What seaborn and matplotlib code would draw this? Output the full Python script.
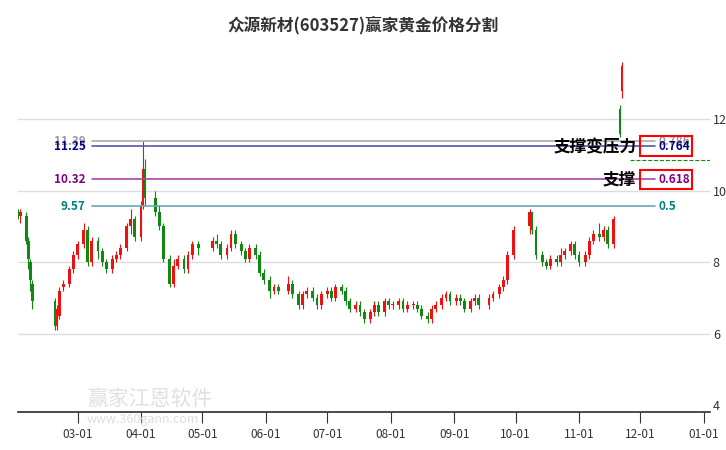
import pandas as pd
import numpy as np
import matplotlib.pyplot as plt
import matplotlib.dates as mdates
from matplotlib.patches import Rectangle
import seaborn as sns

sns.set_theme(style='white')
plt.rcParams['font.family'] = ['Noto Sans CJK SC', 'DejaVu Sans']

# Daily candles (date, open, close, high, low)
dates = ['02-01','02-02','02-05','02-06','02-07','02-08','02-19','02-20','02-21','02-23','02-26','02-28',
         '03-01','03-04','03-06','03-08','03-11','03-13','03-15','03-18','03-20','03-22','03-25','03-27','03-29',
         '04-01','04-02','04-03','04-08','04-10','04-12','04-15','04-17','04-19','04-22','04-24','04-26','04-29',
         '05-06','05-08','05-10','05-13','05-15','05-17','05-20','05-22','05-24','05-27','05-29','05-31',
         '06-03','06-05','06-07','06-12','06-14','06-17','06-19','06-21','06-24','06-26','06-28',
         '07-01','07-03','07-05','07-08','07-10','07-12','07-15','07-17','07-19','07-22','07-24','07-26','07-29','07-31',
         '08-02','08-05','08-07','08-09','08-12','08-14','08-16','08-19','08-21','08-23','08-26','08-28','08-30',
         '09-02','09-04','09-06','09-09','09-11','09-13','09-18','09-20','09-23','09-25','09-27','09-30',
         '10-08','10-09','10-11','10-14','10-16','10-18','10-21','10-23','10-25','10-28','10-30',
         '11-01','11-04','11-06','11-08','11-11','11-13','11-15','11-18','11-21','11-22']
opens = [9.4,9.3,9.3,8.6,8.0,7.4,6.9,6.2,6.5,7.3,7.4,7.8,
         8.2,8.5,8.9,8.0,8.6,8.3,8.0,7.8,8.1,8.2,8.4,9.0,9.2,
         8.7,9.6,10.6,9.8,9.4,9.0,8.1,7.4,7.9,8.1,7.8,8.2,8.5,
         8.4,8.6,8.5,8.2,8.4,8.8,8.5,8.3,8.1,8.4,8.2,7.7,
         7.5,7.2,7.3,7.2,7.4,7.1,6.8,7.1,7.2,7.0,6.8,
         7.1,7.2,7.0,7.3,7.2,6.9,6.7,6.8,6.6,6.4,6.6,6.8,6.6,6.9,
         6.8,6.8,6.9,6.7,6.8,6.8,6.7,6.5,6.4,6.7,6.8,7.0,7.1,
         6.9,7.0,6.9,6.7,6.9,7.0,6.8,7.0,7.1,7.3,7.5,8.2,
         9.0,9.4,8.9,8.2,8.0,7.9,8.1,8.0,8.2,8.3,8.5,
         8.2,8.0,8.2,8.6,8.8,8.7,8.9,8.5,12.3,12.8]
closes = [9.3,9.4,8.6,8.1,7.5,6.9,6.2,6.7,7.2,7.4,7.8,8.2,
          8.5,8.9,8.0,8.6,8.3,8.0,7.8,8.1,8.2,8.4,9.0,9.2,8.7,
          9.6,10.6,9.8,9.4,9.0,8.1,7.4,7.9,8.1,7.8,8.2,8.5,8.4,
          8.6,8.5,8.2,8.4,8.8,8.5,8.3,8.1,8.4,8.2,7.7,7.5,
          7.2,7.3,7.2,7.4,7.1,6.8,7.1,7.2,7.0,6.8,7.1,
          7.2,7.0,7.3,7.2,6.9,6.7,6.8,6.6,6.4,6.6,6.8,6.6,6.9,6.8,
          6.8,6.9,6.7,6.8,6.8,6.7,6.5,6.4,6.7,6.8,7.0,7.1,6.9,
          7.0,6.9,6.7,6.9,7.0,6.8,7.0,7.1,7.3,7.5,8.2,8.9,
          9.4,8.9,8.2,8.0,7.9,8.1,8.0,8.2,8.3,8.5,8.2,
          8.0,8.2,8.6,8.8,8.7,8.9,8.5,9.2,11.6,13.5]
highs = [9.5,9.5,9.4,8.7,8.1,7.5,7.0,6.8,7.3,7.5,7.9,8.3,
         8.6,9.1,9.0,8.7,8.7,8.4,8.1,8.2,8.3,8.5,9.1,9.5,9.3,
         9.7,11.4,10.9,10.0,9.6,9.1,8.2,8.1,8.2,8.2,8.3,8.6,8.6,
         8.7,8.8,8.6,8.5,8.9,8.9,8.6,8.4,8.5,8.5,8.3,7.8,
         7.6,7.4,7.4,7.6,7.5,7.2,7.2,7.3,7.3,7.1,7.2,
         7.3,7.3,7.4,7.4,7.3,7.0,6.9,6.9,6.7,6.7,6.9,6.9,7.0,7.0,
         6.9,7.0,7.0,6.9,6.9,6.9,6.8,6.6,6.8,6.9,7.1,7.2,7.2,
         7.1,7.1,7.0,7.0,7.1,7.1,7.1,7.2,7.4,7.6,8.3,9.0,
         9.5,9.4,9.0,8.3,8.1,8.2,8.2,8.4,8.4,8.6,8.6,
         8.3,8.3,8.7,8.9,9.1,9.0,9.0,9.3,12.4,13.6]
lows = [9.2,9.1,8.5,7.8,7.2,6.7,6.1,6.1,6.4,7.2,7.3,7.7,
        8.1,8.4,7.9,7.9,8.1,7.9,7.7,7.7,8.0,8.1,8.3,8.8,8.6,
        8.6,9.5,9.6,9.3,8.9,8.0,7.3,7.3,7.8,7.7,7.7,8.1,8.2,
        8.3,8.4,8.1,8.1,8.3,8.4,8.2,8.0,8.0,8.1,7.6,7.4,
        7.0,7.1,7.1,7.1,7.0,6.7,6.7,7.0,6.9,6.7,6.7,
        7.0,6.9,6.9,7.1,6.8,6.6,6.6,6.5,6.3,6.3,6.5,6.5,6.5,6.7,
        6.7,6.7,6.6,6.6,6.7,6.6,6.4,6.3,6.3,6.6,6.7,6.9,6.8,
        6.8,6.8,6.6,6.6,6.8,6.7,6.7,6.9,7.0,7.2,7.4,8.1,
        8.8,8.8,8.1,7.9,7.8,7.8,7.9,7.9,8.1,8.2,8.1,
        7.9,7.9,8.1,8.5,8.6,8.6,8.4,8.4,11.5,12.6]

levels = [11.39, 11.25, 10.32, 9.57]
level_ratios = ['0.786', '0.764', '0.618', '0.5']
level_colors = ['#999999', '#000080', '#800080', '#008080']
line_colors = ['#aaaaaa', '#5555aa', '#aa44aa', '#66aaaa']
yticks = [4, 6, 8, 10, 12]
xtick_labels = ['03-01', '04-01', '05-01', '06-01', '07-01', '08-01', '09-01', '10-01', '11-01', '12-01', '01-01']

df = pd.DataFrame({'date': pd.to_datetime(['2024-' + d for d in dates]),
                   'open': opens, 'close': closes, 'high': highs, 'low': lows})
df['x'] = mdates.date2num(df['date'])

fig = plt.figure(figsize=(7.26, 4.5), dpi=100)
ax = fig.add_axes([0.025, 0.084, 0.953, 0.816])

for _, r in df.iterrows():
    col = '#ee1111' if r['close'] >= r['open'] else '#118811'
    ax.vlines(r['x'], r['low'], r['high'], color=col, lw=0.8)
    ax.add_patch(Rectangle((r['x'] - 0.7, min(r['open'], r['close'])), 1.4,
                           max(abs(r['close'] - r['open']), 0.03), color=col, lw=0))

x0 = mdates.date2num(pd.Timestamp('2024-03-08'))
x1 = mdates.date2num(pd.Timestamp('2024-12-08'))
for lv, rt, tc, lc in zip(levels, level_ratios, level_colors, line_colors):
    ax.plot([x0, x1], [lv, lv], color=lc, lw=1.2)
    ax.text(x0 - 3, lv, f'{lv:.2f}', color=tc, fontsize=8.5, ha='right', va='center', fontweight='bold')
    ax.text(x1 + 2, lv, rt, color=tc, fontsize=8.5, ha='left', va='center', fontweight='bold')

# boxes around the two key ratios
bx = mdates.date2num(pd.Timestamp('2024-12-01'))
for lv in [11.25, 10.32]:
    ax.add_patch(Rectangle((bx, lv - 0.27), 25, 0.54, fill=False, ec='red', lw=1.5, zorder=5))
ax.text(bx - 2, 11.22, '支撑变压力', fontsize=12, fontweight='bold', ha='right', va='center', color='black')
ax.text(bx - 2, 10.32, '支撑', fontsize=12, fontweight='bold', ha='right', va='center', color='black')

# current price dashed line
ax.plot([mdates.date2num(pd.Timestamp('2024-11-26')), mdates.date2num(pd.Timestamp('2025-01-05'))],
        [10.86, 10.86], color='#118811', lw=0.8, ls='--')

# watermark
fig.text(0.12, 0.1, '赢家江恩软件', fontsize=15, color='#dddddd', alpha=0.9)
fig.text(0.12, 0.06, 'www.360gann.com', fontsize=9, color='#dddddd')

ax.set_ylim(3.8, 14.08)
ax.set_xlim(mdates.date2num(pd.Timestamp('2024-02-01')), mdates.date2num(pd.Timestamp('2025-01-04')))
ax.set_yticks(yticks)
ax.yaxis.tick_right()
ax.tick_params(axis='y', length=0, labelsize=9, colors='#333333', pad=2)
ax.grid(axis='y', color='#dddddd', lw=1)
ax.get_ygridlines()[0].set_visible(False)
xt = mdates.date2num(pd.to_datetime(['2024-' + m if m != '01-01' else '2025-01-01' for m in xtick_labels]))
ax.set_xticks(xt)
ax.set_xticklabels(xtick_labels)
ax.tick_params(axis='x', bottom=True, length=8, width=0.8, labelsize=8.5, colors='#333333', direction='out')
for s in ['top', 'right', 'left']:
    ax.spines[s].set_visible(False)
ax.spines['bottom'].set_color('#333333')

fig.suptitle('众源新材(603527)赢家黄金价格分割', y=0.965, fontsize=12, fontweight='bold', color='#333333')
fig.savefig('out.png', dpi=100)
